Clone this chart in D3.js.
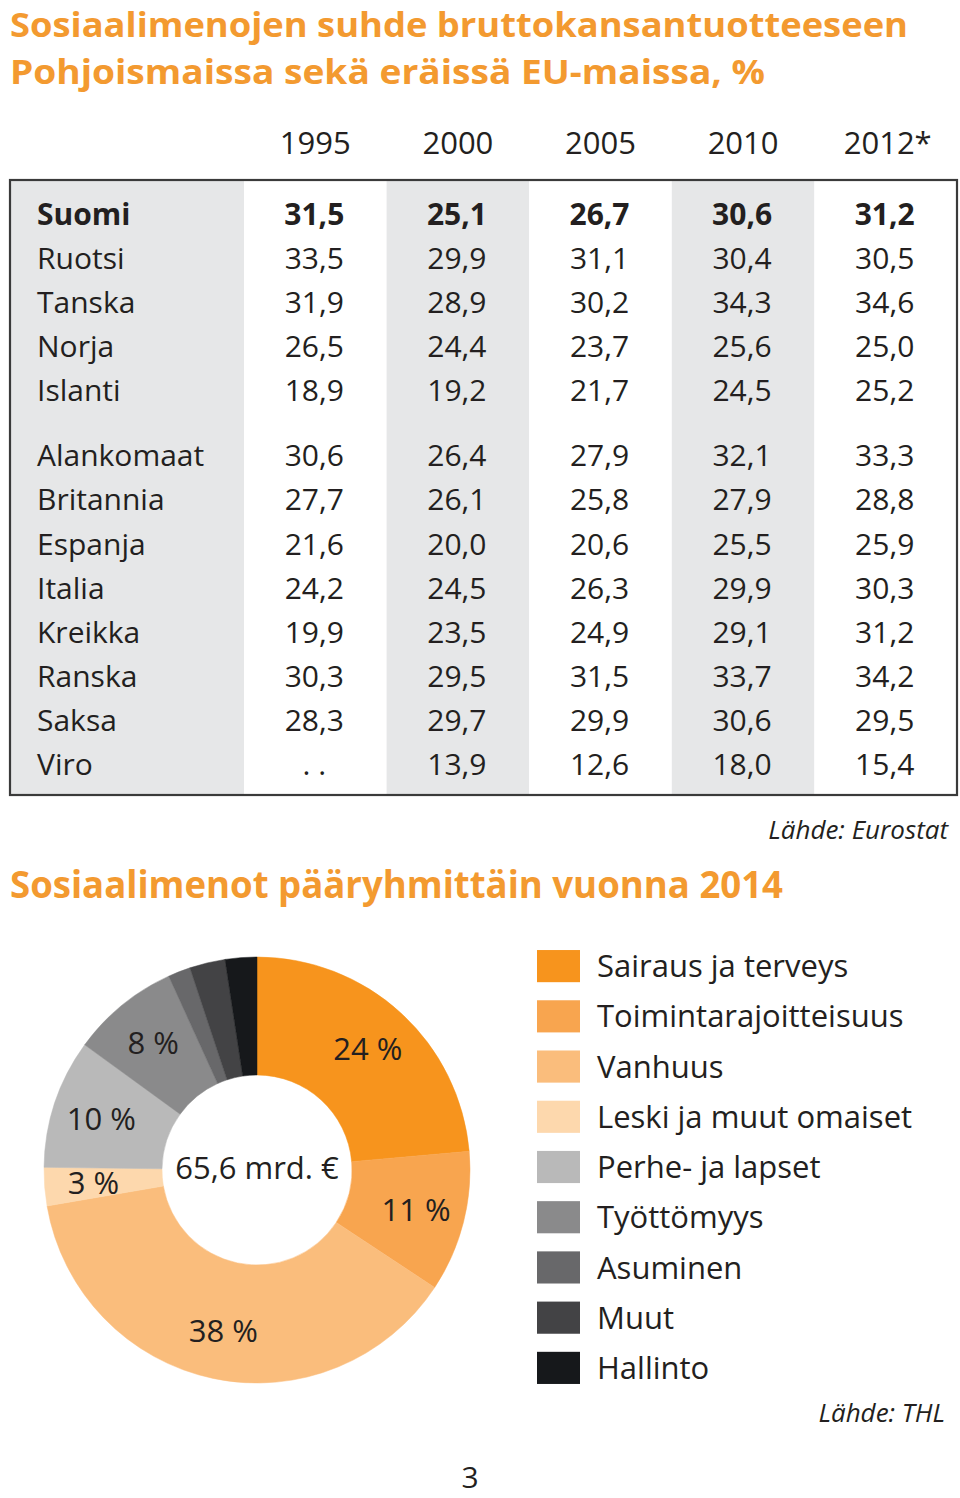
<!DOCTYPE html>
<html><head><meta charset="utf-8">
<script src="https://cdn.jsdelivr.net/npm/d3@7"></script>
<style>
html,body{margin:0;padding:0;background:#fff;}
svg{display:block;}
</style></head>
<body>
<svg id="c" width="960" height="1498"></svg>
<script>
// ---- Table data ----
const years = ["1995", "2000", "2005", "2010", "2012*"];
const countries = ["Suomi","Ruotsi","Tanska","Norja","Islanti","Alankomaat","Britannia","Espanja","Italia","Kreikka","Ranska","Saksa","Viro"];
const countryGroup = [0,0,0,0,0,1,1,1,1,1,1,1,1];
const val1995 = [31.5,33.5,31.9,26.5,18.9,30.6,27.7,21.6,24.2,19.9,30.3,28.3,null];
const val2000 = [25.1,29.9,28.9,24.4,19.2,26.4,26.1,20.0,24.5,23.5,29.5,29.7,13.9];
const val2005 = [26.7,31.1,30.2,23.7,21.7,27.9,25.8,20.6,26.3,24.9,31.5,29.9,12.6];
const val2010 = [30.6,30.4,34.3,25.6,24.5,32.1,27.9,25.5,29.9,29.1,33.7,30.6,18.0];
const val2012 = [31.2,30.5,34.6,25.0,25.2,33.3,28.8,25.9,30.3,31.2,34.2,29.5,15.4];
const columns = [val1995, val2000, val2005, val2010, val2012];

// ---- Donut data ----
const categories = ["Sairaus ja terveys","Toimintarajoitteisuus","Vanhuus","Leski ja muut omaiset","Perhe- ja lapset","Työttömyys","Asuminen","Muut","Hallinto"];
const shares = [23.6, 10.7, 38.0, 2.9, 9.8, 8.2, 1.7, 2.7, 2.4];
const shareLabels = ["24 %","11 %","38 %","3 %","10 %","8 %","","",""];
const colors = ["#f7941d","#f8a54f","#fabd7c","#fdd8ad","#b9b9b9","#8a8a8b","#68686a","#434345","#16181b"];

const svg = d3.select("#c");
const orange = "#f39a30";
const ink = "#231f20";
const bodyFont = "'Open Sans', 'Noto Sans', sans-serif";
const titleFont = "'Open Sans', 'Noto Sans', sans-serif";

// Titles (condensed look via textLength)
const titleLines = ["Sosiaalimenojen suhde bruttokansantuotteeseen", "Pohjoismaissa sekä eräissä EU-maissa, %"];
const titleWidths = [898, 755];
titleLines.forEach((t, i) => {
  svg.append("text").attr("x", 10).attr("y", 37 + i * 47)
    .attr("font-family", titleFont).attr("font-weight", "bold").attr("font-size", 34)
    .attr("fill", orange).attr("textLength", titleWidths[i]).attr("lengthAdjust", "spacingAndGlyphs")
    .text(t);
});

// Table geometry
const tableLeft = 10, tableRight = 957, tableTop = 180, tableBottom = 795;
const labelColRight = 244;
const x = d3.scaleBand().domain(years).range([labelColRight, tableRight]).paddingInner(0).paddingOuter(0);
const rowStep = 44.1, groupGap = 21;
const yRow = d3.scaleLinear().domain([0, 1]).range([214, 214 + rowStep]);
const rowY = i => yRow(i) + countryGroup[i] * groupGap;

// background shading
const tbl = svg.append("g");
tbl.append("rect").attr("x", tableLeft).attr("y", tableTop).attr("width", labelColRight - tableLeft)
  .attr("height", tableBottom - tableTop).attr("fill", "#e6e7e8");
tbl.selectAll("rect.col").data(years).join("rect").attr("class", "col")
  .attr("x", d => x(d)).attr("y", tableTop).attr("width", x.bandwidth())
  .attr("height", tableBottom - tableTop)
  .attr("fill", (d, i) => i % 2 === 1 ? "#e6e7e8" : "#ffffff");
tbl.append("rect").attr("x", tableLeft).attr("y", tableTop).attr("width", tableRight - tableLeft)
  .attr("height", tableBottom - tableTop).attr("fill", "none").attr("stroke", "#3a3a3a").attr("stroke-width", 2.2);

// year headers
svg.selectAll("text.year").data(years).join("text").attr("class", "year")
  .attr("x", d => x(d) + x.bandwidth() / 2 + (d === "2012*" ? 2 : 0)).attr("y", 154)
  .attr("text-anchor", "middle").attr("font-family", bodyFont).attr("font-size", 31)
  .attr("fill", ink).text(d => d);

// country labels
svg.selectAll("text.country").data(countries).join("text").attr("class", "country")
  .attr("x", 37).attr("y", (d, i) => rowY(i)).attr("dy", "0.36em")
  .attr("font-family", bodyFont).attr("font-size", 30)
  .attr("font-weight", (d, i) => i === 0 ? "bold" : "normal")
  .attr("fill", ink).text(d => d);

const fmt = v => v == null ? ". ." : d3.format(".1f")(v).replace(".", ",");
columns.forEach((col, ci) => {
  svg.append("g").selectAll("text").data(col).join("text")
    .attr("x", x(years[ci]) + x.bandwidth() / 2 - 1).attr("y", (d, i) => rowY(i)).attr("dy", "0.36em")
    .attr("text-anchor", "middle").attr("font-family", bodyFont).attr("font-size", 30)
    .attr("font-weight", (d, i) => i === 0 ? "bold" : "normal")
    .attr("fill", ink).text(d => fmt(d));
});

// source 1
svg.append("text").attr("x", 948).attr("y", 839).attr("text-anchor", "end")
  .attr("font-family", bodyFont).attr("font-style", "italic").attr("font-size", 26)
  .attr("fill", ink).text("Lähde: Eurostat");

// second title
svg.append("text").attr("x", 10).attr("y", 898).attr("font-family", titleFont)
  .attr("font-weight", "bold").attr("font-size", 37).attr("fill", orange)
  .attr("textLength", 773).attr("lengthAdjust", "spacingAndGlyphs")
  .text("Sosiaalimenot pääryhmittäin vuonna 2014");

// Donut
const cx = 257, cy = 1170, rOuter = 213, rInner = 95, rLabel = 164;
const pie = d3.pie().sort(null).value(d => d);
const arcs = pie(shares);
const arc = d3.arc().innerRadius(rInner).outerRadius(rOuter);
const labelArc = d3.arc().innerRadius(rLabel).outerRadius(rLabel);
const dg = svg.append("g").attr("transform", `translate(${cx},${cy})`);
dg.selectAll("path").data(arcs).join("path").attr("d", arc)
  .attr("fill", (d, i) => colors[i]).attr("stroke", (d, i) => colors[i]).attr("stroke-width", 0.5);
dg.selectAll("text.lbl").data(arcs).join("text").attr("class", "lbl")
  .attr("transform", d => { const c = labelArc.centroid(d); return `translate(${c[0]},${c[1]})`; })
  .attr("text-anchor", "middle").attr("dy", "0.36em")
  .attr("font-family", bodyFont).attr("font-size", 31).attr("fill", ink)
  .text((d, i) => shareLabels[i]);
dg.append("text").attr("x", 0).attr("y", 0).attr("dy", "0.3em").attr("text-anchor", "middle")
  .attr("font-family", bodyFont).attr("font-size", 31).attr("fill", ink).text("65,6 mrd. €");

// Legend
const ly = d3.scaleBand().domain(categories).range([941, 1393]).paddingInner(0.36).paddingOuter(0.18);
const lg = svg.append("g");
lg.selectAll("rect").data(categories).join("rect")
  .attr("x", 537).attr("y", d => ly(d)).attr("width", 43).attr("height", ly.bandwidth())
  .attr("fill", (d, i) => colors[i]);
lg.selectAll("text").data(categories).join("text")
  .attr("x", 597).attr("y", d => ly(d) + ly.bandwidth() / 2).attr("dy", "0.36em")
  .attr("font-family", bodyFont).attr("font-size", 31).attr("fill", ink).text(d => d);

svg.append("text").attr("x", 945).attr("y", 1422).attr("text-anchor", "end")
  .attr("font-family", bodyFont).attr("font-style", "italic").attr("font-size", 26)
  .attr("fill", ink).text("Lähde: THL");

svg.append("text").attr("x", 470).attr("y", 1488).attr("text-anchor", "middle")
  .attr("font-family", bodyFont).attr("font-size", 30).attr("fill", ink).text("3");
</script>
</body></html>
